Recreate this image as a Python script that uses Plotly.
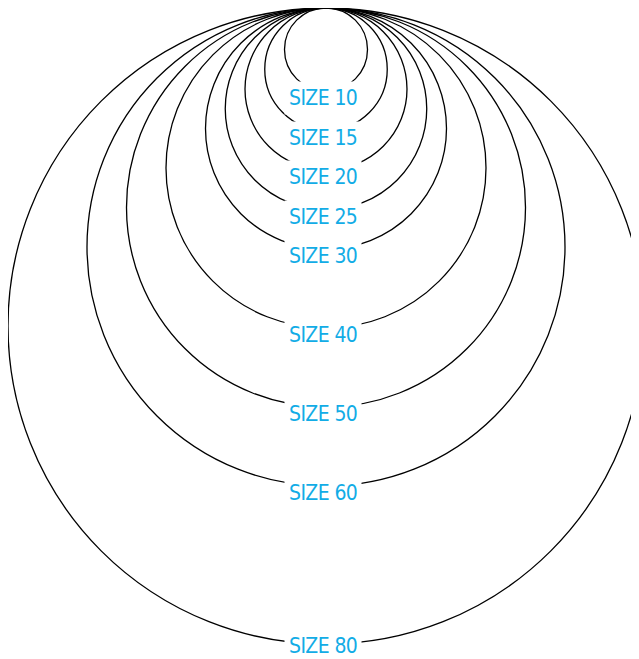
import plotly.graph_objects as go

sizes = [10, 15, 20, 25, 30, 40, 50, 60, 80]
labels = ["SIZE 10", "SIZE 15", "SIZE 20", "SIZE 25", "SIZE 30",
          "SIZE 40", "SIZE 50", "SIZE 60", "SIZE 80"]

W, H = 639, 659
CX, TOP = 318, 0
SCALE, OFFSET = 3.95, 2.0  # pixels of radius per size unit
LABEL_DY = 7
LABEL_MAX_Y = 638

fig = go.Figure()
fig.add_trace(go.Scatter(x=[0, W], y=[0, H], mode="markers",
                         marker=dict(opacity=0), hoverinfo="skip", showlegend=False))

shapes = []
annotations = []
for s, lab in zip(sizes, labels):
    r = SCALE * s + OFFSET
    shapes.append(dict(type="circle", xref="x", yref="y",
                       x0=CX - r, x1=CX + r, y0=TOP, y1=TOP + 2 * r,
                       line=dict(color="black", width=1.3)))
    annotations.append(dict(
        x=CX - 3, y=min(TOP + 2 * r + LABEL_DY, LABEL_MAX_Y), xref="x", yref="y",
        text=f'<span style="font-stretch:condensed;letter-spacing:-0.6px">{lab}</span>',
        showarrow=False,
        font=dict(family="DejaVu Sans", size=21, color="#12ACE6"),
        bgcolor="white", borderpad=4,
        xanchor="center", yanchor="middle"))

fig.update_layout(
    width=W, height=H,
    margin=dict(l=0, r=0, t=0, b=0),
    paper_bgcolor="white", plot_bgcolor="white",
    shapes=shapes, annotations=annotations,
    xaxis=dict(range=[0, W], visible=False, fixedrange=True),
    yaxis=dict(range=[H, 0], visible=False, fixedrange=True),
    showlegend=False,
)

fig.write_html("out.html")
